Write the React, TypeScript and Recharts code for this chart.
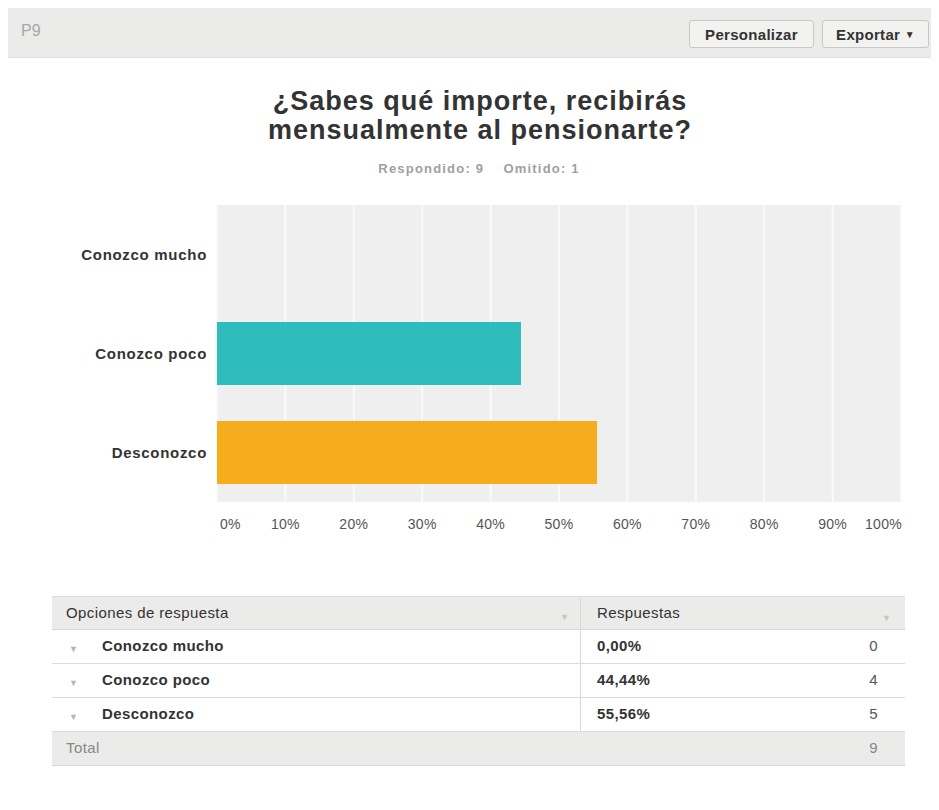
import React from 'react';
import { BarChart, Bar, XAxis, YAxis, CartesianGrid, Cell } from 'recharts';

const categories = ['Conozco mucho', 'Conozco poco', 'Desconozco'];
const percents = [0, 44.44, 55.56];
const counts = [0, 4, 5];
const percentLabels = ['0,00%', '44,44%', '55,56%'];
const barColors = ['#2fbcbc', '#2fbcbc', '#f5ac1d'];
const xTicks = [0, 10, 20, 30, 40, 50, 60, 70, 80, 90, 100];
const totalCount = 9;
const answered = 9;
const skipped = 1;

const data = categories.map((c, i) => ({ name: c, value: percents[i] }));

const sans = "'Liberation Sans', Arial, sans-serif";

const XTick = (props: any) => {
  const { x, y, payload, index } = props;
  let anchor: 'middle' | 'start' | 'end' = 'middle';
  let dx = 0;
  if (index === 0) { anchor = 'start'; dx = 3; }
  if (index === xTicks.length - 1) { anchor = 'end'; dx = 1; }
  return (
    <text x={x + dx} y={y + 19} textAnchor={anchor} fontFamily={sans} fontSize={14} letterSpacing={0.3} fill="#555">
      {payload.value}%
    </text>
  );
};

const YTick = (props: any) => {
  const { x, y, payload } = props;
  return (
    <text x={x - 2} y={y + 5} textAnchor="end" fontFamily={sans} fontSize={15} letterSpacing={0.7} fontWeight="bold" fill="#333">
      {payload.value}
    </text>
  );
};

const Tri = ({ color = '#bbb' }: { color?: string }) => (
  <span style={{ fontSize: 9, color, letterSpacing: 0 }}>▼</span>
);

export default function App() {
  const rowH = 34;
  const tableText: React.CSSProperties = { fontFamily: sans, fontSize: 15, letterSpacing: 0.4, color: '#333' };
  return (
    <div style={{ position: 'relative', margin: '-8px 0 0 -8px', width: 939, height: 810, overflow: 'hidden', background: '#fff', fontFamily: sans }}>
      {/* panel border */}
      <div style={{ position: 'absolute', left: 7, top: 7, width: 928, height: 820, border: '1px solid #dcdcdc', boxSizing: 'border-box' }} />
      {/* header */}
      <div style={{ position: 'absolute', left: 8, top: 8, width: 926, height: 49, background: '#ebebea', borderBottom: '1px solid #e0e0e0' }} />
      <div style={{ position: 'absolute', left: 21, top: 22, fontSize: 16, color: '#a8a8a8', fontFamily: sans }}>P9</div>
      <div style={{ position: 'absolute', left: 689, top: 20, width: 125, height: 28, boxSizing: 'border-box', border: '1px solid #c8c8c8', borderRadius: 3, background: '#f2f2f1', fontFamily: sans, fontWeight: 'bold', fontSize: 15, letterSpacing: 0.3, color: '#333', display: 'flex', alignItems: 'center', justifyContent: 'center' }}>Personalizar</div>
      <div style={{ position: 'absolute', left: 822, top: 20, width: 107, height: 28, boxSizing: 'border-box', border: '1px solid #c8c8c8', borderRadius: 3, background: '#f2f2f1', fontFamily: sans, fontWeight: 'bold', fontSize: 15, letterSpacing: 0.3, color: '#333', display: 'flex', alignItems: 'center', justifyContent: 'center' }}>Exportar&nbsp;<span style={{ fontSize: 10 }}>▼</span></div>

      {/* title */}
      <div style={{ position: 'absolute', left: 0, top: 87, width: 960, textAlign: 'center', fontSize: 27, lineHeight: '29px', letterSpacing: 1, fontWeight: 'bold', color: '#333', fontFamily: sans }}>
        ¿Sabes qué importe, recibirás<br />mensualmente al pensionarte?
      </div>
      <div style={{ position: 'absolute', left: 0, top: 161, width: 958, textAlign: 'center', fontSize: 13, letterSpacing: 1.2, fontWeight: 'bold', color: '#a0a0a0', fontFamily: sans, whiteSpace: 'pre' }}>
        {`Respondido: ${answered}    Omitido: ${skipped}`}
      </div>

      {/* chart */}
      <div style={{ position: 'absolute', left: 0, top: 0 }}>
        <BarChart width={939} height={560} data={data} layout="vertical" margin={{ top: 205, right: 38, bottom: 18, left: 17 }} barCategoryGap={18}>
          <CartesianGrid horizontal={false} vertical={true} stroke="#fafafa" strokeWidth={2} fill="#efefef" />
          <XAxis type="number" domain={[0, 100]} ticks={xTicks} interval={0} axisLine={false} tickLine={false} height={40} tick={<XTick />} />
          <YAxis type="category" dataKey="name" width={200} axisLine={false} tickLine={false} tick={<YTick />} />
          <Bar dataKey="value" isAnimationActive={false}>
            {data.map((d, i) => (
              <Cell key={d.name} fill={barColors[i]} />
            ))}
          </Bar>
        </BarChart>
      </div>

      {/* table */}
      <div style={{ position: 'absolute', left: 52, top: 596, width: 853, ...tableText }}>
        <div style={{ position: 'relative', height: rowH, background: '#ebebea', borderTop: '1px solid #ddd', borderBottom: '1px solid #d8d8d8', boxSizing: 'border-box' }}>
          <span style={{ position: 'absolute', left: 14, top: 7 }}>Opciones de respuesta</span>
          <span style={{ position: 'absolute', left: 508, top: 9 }}><Tri color="#c4c4c4" /></span>
          <div style={{ position: 'absolute', left: 528, top: 0, bottom: 0, borderLeft: '1px solid #d8d8d8' }} />
          <span style={{ position: 'absolute', left: 545, top: 7 }}>Respuestas</span>
          <span style={{ position: 'absolute', left: 830, top: 10 }}><Tri color="#c4c4c4" /></span>
        </div>
        {categories.map((c, i) => (
          <div key={c} style={{ position: 'relative', height: rowH, background: '#fff', borderBottom: '1px solid #dcdcdc', boxSizing: 'border-box' }}>
            <span style={{ position: 'absolute', left: 17, top: 8 }}><Tri color="#b5b5b5" /></span>
            <span style={{ position: 'absolute', left: 50, top: 7, fontWeight: 'bold' }}>{c}</span>
            <div style={{ position: 'absolute', left: 528, top: 0, bottom: 0, borderLeft: '1px solid #d8d8d8' }} />
            <span style={{ position: 'absolute', left: 545, top: 7, fontWeight: 'bold' }}>{percentLabels[i]}</span>
            <span style={{ position: 'absolute', right: 27, top: 7, color: '#555' }}>{counts[i]}</span>
          </div>
        ))}
        <div style={{ position: 'relative', height: rowH, background: '#ebebea', borderBottom: '1px solid #d8d8d8', boxSizing: 'border-box' }}>
          <span style={{ position: 'absolute', left: 14, top: 7, color: '#888' }}>Total</span>
          <span style={{ position: 'absolute', right: 27, top: 7, color: '#888' }}>{totalCount}</span>
        </div>
      </div>
    </div>
  );
}
